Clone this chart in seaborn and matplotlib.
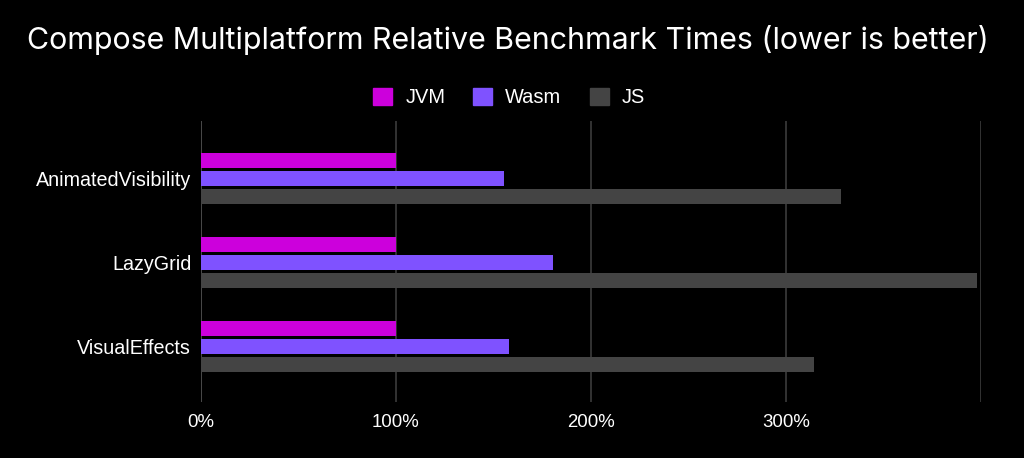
import matplotlib
matplotlib.use("Agg")
import matplotlib.pyplot as plt
import seaborn as sns
import pandas as pd
from matplotlib.patches import Patch
from matplotlib.ticker import FuncFormatter

benchmarks = ["AnimatedVisibility", "LazyGrid", "VisualEffects"]
platforms = ["JVM", "Wasm", "JS"]
jvm = [100, 100, 100]
wasm = [155.5, 180.6, 158.0]
js = [328.3, 398.0, 314.7]
colors = ["#CC00DC", "#7F52FF", "#444444"]

rows = []
for p, vals in zip(platforms, [jvm, wasm, js]):
    for b, v in zip(benchmarks, vals):
        rows.append({"benchmark": b, "platform": p, "value": v})
df = pd.DataFrame(rows)

sns.set_theme(style="dark")
plt.rcParams["font.family"] = ["Liberation Sans", "DejaVu Sans"]

fig = plt.figure(figsize=(10.24, 4.58), dpi=100, facecolor="black")
ax = fig.add_axes([201 / 1024, 1 - 401.7 / 458, (980.7 - 201) / 1024, (401.7 - 121) / 458])
ax.set_facecolor("black")

sns.barplot(data=df, y="benchmark", x="value", hue="platform", order=benchmarks,
            hue_order=platforms, palette=colors, orient="h", width=0.643, gap=0.18,
            saturation=1, ax=ax, legend=False, linewidth=0)

ax.set_xlim(0, 400)
ax.set_ylim(2.66, -0.68)
ax.set_xticks([0, 100, 200, 300, 400])
ax.xaxis.set_major_formatter(FuncFormatter(lambda v, _: "" if v >= 400 else f"{int(v)}%"))
ax.grid(axis="x", color="#3c3c3c", linewidth=1.2)
ax.grid(axis="y", visible=False)
ax.set_axisbelow(True)
for s in ax.spines.values():
    s.set_visible(False)
ax.axvline(0, color="#9a9a9a", linewidth=1.2, zorder=0.5)
ax.set_xlabel("")
ax.set_ylabel("")
ax.tick_params(axis="x", colors="white", labelsize=13.4, pad=9, length=0)
ax.tick_params(axis="y", colors="white", labelsize=14.2, pad=7, length=0)

fig.text(27 / 1024, 1 - 40 / 458, "Compose Multiplatform Relative Benchmark Times (lower is better)",
         color="white", fontsize=21.9, family=["Inter", "DejaVu Sans"], va="center", ha="left")

handles = [Patch(facecolor=c, edgecolor=c, label=p) for c, p in zip(colors, platforms)]
leg = fig.legend(handles=handles, loc="center", bbox_to_anchor=(509 / 1024, 1 - 97.5 / 458), ncol=3,
                 frameon=False, fontsize=14.4, handlelength=0.95, handleheight=0.95,
                 handletextpad=0.65, columnspacing=1.4)
for t in leg.get_texts():
    t.set_color("white")

fig.savefig("out.png", dpi=100, facecolor="black")
